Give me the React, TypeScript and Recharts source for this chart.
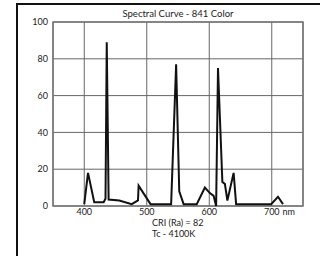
import { LineChart, Line, XAxis, YAxis, CartesianGrid, ReferenceArea } from "recharts";

const wavelengths = [
  400, 406, 416, 431, 434, 436, 439, 456, 476, 486, 487, 506, 539, 547, 552, 559,
  580, 593, 601, 607, 611, 614, 621, 625, 629, 639, 643, 699, 710, 718,
];
const intensity = [
  1, 18, 2, 2, 4, 89, 3.5, 3, 1, 3, 11, 1, 1, 77, 8, 1,
  1, 10, 7, 5.5, 0, 75, 13, 12, 3, 18, 1, 1, 5, 1,
];
const xTicks = [400, 500, 600, 700];
const yTicks = [0, 20, 40, 60, 80, 100];

const data = wavelengths.map((nm, i) => ({ nm, value: intensity[i] }));

const font = "Lato, 'Liberation Sans', sans-serif";
const ink = "#222";

function XTick(props: any) {
  const { x, y, payload } = props;
  return (
    <g>
      <text x={x} y={y} dy={1} textAnchor="middle" fontSize={9} fill={ink} fontFamily={font}>
        {payload.value}
      </text>
      {payload.value === 700 && (
        <text x={x + 17} y={y} dy={1} textAnchor="middle" fontSize={9} fill={ink} fontFamily={font}>
          nm
        </text>
      )}
    </g>
  );
}

export default function App() {
  return (
    <div style={{ position: "absolute", left: 0, top: 0, width: 320, height: 256, overflow: "hidden", background: "#fff" }}>
      <div
        style={{
          position: "absolute",
          left: 16,
          top: 3,
          width: 340,
          height: 300,
          border: "2px solid #111",
        }}
      />
      <div style={{ position: "absolute", left: 0, top: 0 }}>
        <LineChart
          width={320}
          height={256}
          data={data}
          margin={{ top: 22, right: 17, left: 13, bottom: 20 }}
        >
          <CartesianGrid stroke="#666" strokeWidth={1} fill="none" />
          <XAxis
            dataKey="nm"
            type="number"
            domain={[350, 750]}
            ticks={xTicks}
            axisLine={false}
            tickLine={false}
            height={30}
            tick={<XTick />}
          />
          <YAxis
            type="number"
            domain={[0, 100]}
            ticks={yTicks}
            axisLine={false}
            tickLine={false}
            width={40}
            tickMargin={-1}
            tick={{ fontSize: 9, fill: ink, fontFamily: font }}
          />
          <ReferenceArea x1={350} x2={750} y1={0} y2={100} fill="none" stroke="#777" strokeWidth={1.5} />
          <Line
            type="linear"
            dataKey="value"
            stroke="#111"
            strokeWidth={2}
            dot={false}
            isAnimationActive={false}
          />
        </LineChart>
      </div>
      <div style={{ position: "absolute", left: 0, top: 8, width: 356, textAlign: "center", fontFamily: font, fontSize: 9.5, color: ink }}>
        Spectral Curve - 841 Color
      </div>
      <div style={{ position: "absolute", left: 152, top: 217, fontFamily: font, fontSize: 9, color: ink, lineHeight: "11px" }}>
        <div>CRI (Ra) = 82</div>
        <div>Tc - 4100K</div>
      </div>
    </div>
  );
}
